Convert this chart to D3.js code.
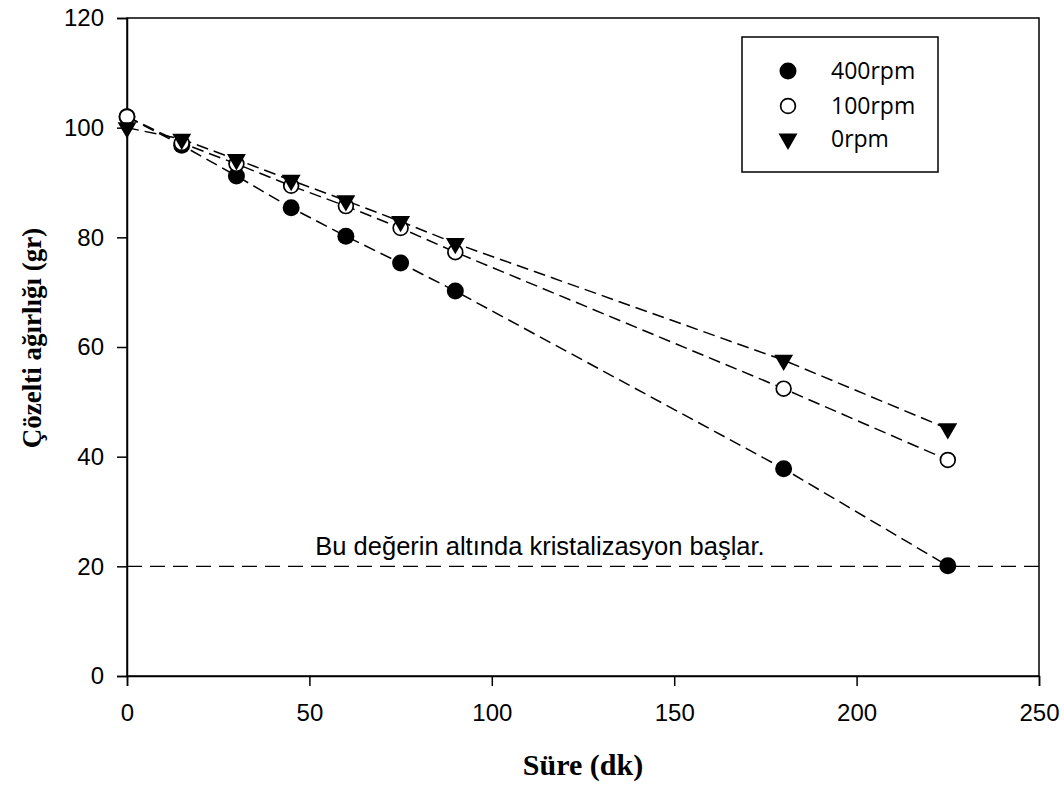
<!DOCTYPE html>
<html>
<head>
<meta charset="utf-8">
<script src="https://cdn.jsdelivr.net/npm/d3@7"></script>
<style>
  html, body { margin: 0; padding: 0; background: #fff; }
  svg { display: block; }
</style>
</head>
<body>
<svg id="chart" width="1064" height="787"></svg>
<script>
// Time (minutes)
const times = [0, 15, 30, 45, 60, 75, 90, 180, 225];
// Solution weight (g) per stirring speed
const rpm400 = [102, 96.8, 91.2, 85.4, 80.2, 75.3, 70.2, 37.8, 20.1];
const rpm100 = [102, 97.2, 93.4, 89.4, 85.7, 81.7, 77.3, 52.4, 39.4];
const rpm0   = [100, 97.9, 94.2, 90.4, 86.7, 82.9, 78.9, 57.6, 45.1];
const seriesNames = ["400rpm", "100rpm", "0rpm"];
const crystallizationLimit = 20;
const xTicks = [0, 50, 100, 150, 200, 250];
const yTicks = [0, 20, 40, 60, 80, 100, 120];

const svg = d3.select("#chart");
const m = { left: 127, right: 1039, top: 18, bottom: 676 };

const x = d3.scaleLinear().domain([0, 250]).range([m.left, m.right]);
const y = d3.scaleLinear().domain([0, 120]).range([m.bottom, m.top]);

const tickFont = "'Liberation Sans', Arial, sans-serif";
const titleFont = "'Liberation Serif', 'Times New Roman', serif";
const legendFont = "'Open Sans', 'Noto Sans', sans-serif";

// Frame
svg.append("rect")
  .attr("x", m.left).attr("y", m.top)
  .attr("width", m.right - m.left).attr("height", m.bottom - m.top)
  .attr("fill", "none").attr("stroke", "#000").attr("stroke-width", 1.5);

// Axes
const xAxis = svg.append("g")
  .attr("transform", `translate(0,${m.bottom})`)
  .call(d3.axisBottom(x).tickValues(xTicks).tickSize(10).tickPadding(18).tickFormat(d3.format("d")));
const yAxis = svg.append("g")
  .attr("transform", `translate(${m.left},0)`)
  .call(d3.axisLeft(y).tickValues(yTicks).tickSize(10).tickPadding(13).tickFormat(d3.format("d")));

[xAxis, yAxis].forEach(g => {
  g.select(".domain").attr("stroke", "#000").attr("stroke-width", 1.5);
  g.selectAll(".tick line").attr("stroke", "#000").attr("stroke-width", 1.5);
  g.selectAll(".tick text")
    .attr("fill", "#000")
    .style("font-family", tickFont)
    .style("font-size", "24px");
});

// Axis titles
svg.append("text")
  .attr("x", (m.left + m.right) / 2).attr("y", 775)
  .attr("text-anchor", "middle")
  .style("font-family", titleFont).style("font-weight", "bold").style("font-size", "30px")
  .text("Süre (dk)");

svg.append("text")
  .attr("transform", "translate(41,338) rotate(-90)")
  .attr("text-anchor", "middle")
  .style("font-family", titleFont).style("font-weight", "bold").style("font-size", "27px")
  .text("Çözelti ağırlığı (gr)");

// Crystallization threshold line
svg.append("line")
  .attr("x1", x(0)).attr("x2", x(250))
  .attr("y1", y(crystallizationLimit)).attr("y2", y(crystallizationLimit))
  .attr("stroke", "#000").attr("stroke-width", 1.3)
  .attr("stroke-dasharray", "15,8");

svg.append("text")
  .attr("x", 540).attr("y", 555)
  .attr("text-anchor", "middle")
  .style("font-family", tickFont).style("font-size", "25.5px")
  .text("Bu değerin altında kristalizasyon başlar.");

// Series
const series = [
  { name: seriesNames[0], values: rpm400, shape: "filled" },
  { name: seriesNames[1], values: rpm100, shape: "open" },
  { name: seriesNames[2], values: rpm0, shape: "tri" }
];

const line = d3.line().x(d => x(d[0])).y(d => y(d[1]));

series.forEach(s => {
  const pts = times.map((t, i) => [t, s.values[i]]);
  svg.append("path")
    .datum(pts)
    .attr("d", line)
    .attr("fill", "none").attr("stroke", "#000").attr("stroke-width", 1.5)
    .attr("stroke-dasharray", "12,6");
});

const triSym = d3.symbol().type(d3.symbolTriangle).size(155);

function drawMarker(g, shape, cx, cy) {
  if (shape === "filled") {
    g.append("circle").attr("cx", cx).attr("cy", cy).attr("r", 8.5)
      .attr("fill", "#000");
  } else if (shape === "open") {
    g.append("circle").attr("cx", cx).attr("cy", cy).attr("r", 7.4)
      .attr("fill", "#fff").attr("stroke", "#000").attr("stroke-width", 1.7);
  } else {
    g.append("path").attr("d", triSym)
      .attr("transform", `translate(${cx},${cy}) rotate(180)`)
      .attr("fill", "#000");
  }
}

series.forEach(s => {
  const g = svg.append("g");
  times.forEach((t, i) => drawMarker(g, s.shape, x(t), y(s.values[i])));
});

// Legend
const legend = svg.append("g");
legend.append("rect")
  .attr("x", 742).attr("y", 37).attr("width", 196).attr("height", 135)
  .attr("fill", "#fff").attr("stroke", "#000").attr("stroke-width", 1.5);
const legendRows = [71, 106, 139];
series.forEach((s, i) => {
  const ly = legendRows[i];
  drawMarker(legend, s.shape, 788, ly);
  legend.append("text")
    .attr("x", 831).attr("y", ly + 8)
    .style("font-family", legendFont).style("font-size", "23px")
    .text(s.name);
});
</script>
</body>
</html>
